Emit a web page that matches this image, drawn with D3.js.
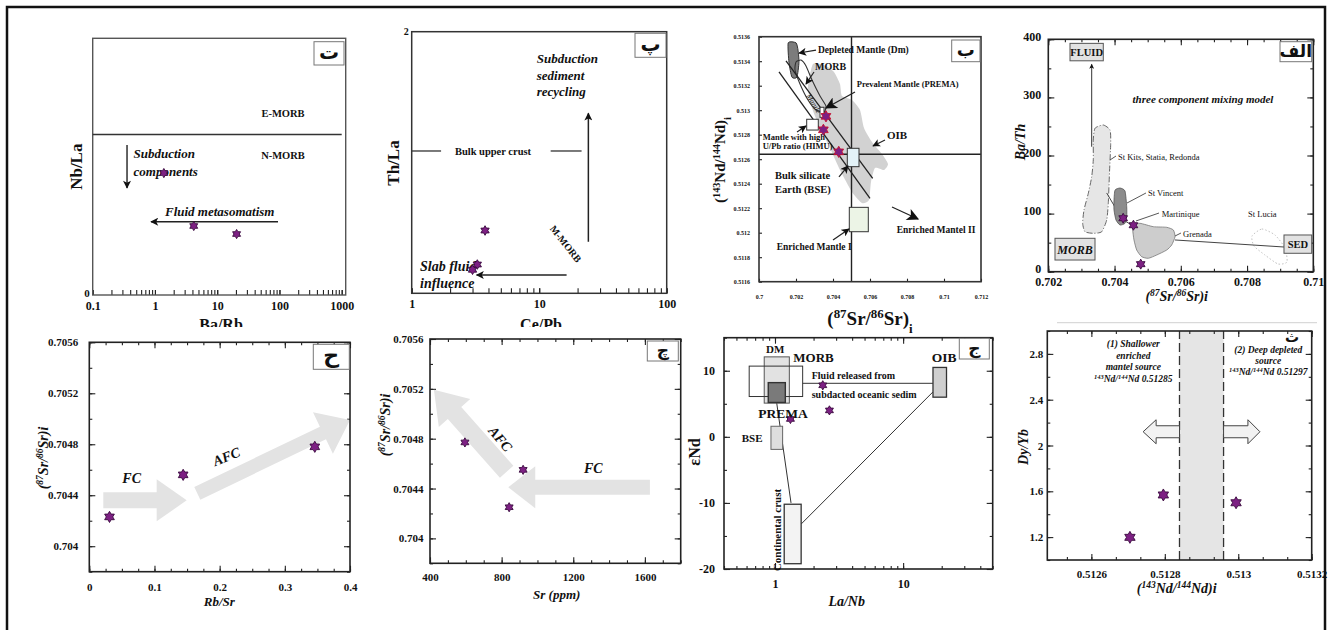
<!DOCTYPE html>
<html><head><meta charset="utf-8">
<script src="https://cdn.jsdelivr.net/npm/d3@7"></script>
<style>body{margin:0;background:#fff}svg{display:block}</style>
</head><body><svg id="c" width="1330" height="630"></svg>
<script>
// ================= DATA =================
// Panel ت : Nb/La vs Ba/Rb
const tBaRb = [1.39, 4.2, 20.5];
const tNbLa = [0.76, 0.43, 0.38];
const tXTicks = [0.1, 1, 10, 100, 1000];
const tXTickLabels = ["0.1", "1", "10", "100", "1000"];
const tYTicks = [0];
const tYTickLabels = ["0"];
const tMorbDivide = 1.0;
const tSubductionArrow = [[0.356, 0.935], [0.356, 0.667]];
const tFluidArrow = [[94.8, 0.457], [0.865, 0.457]];

// Panel پ : Th/La vs Ce/Pb
const pCePb = [3.76, 3.27, 3.0];
const pThLa = [0.48, 0.22, 0.18];
const pXTicks = [1, 10, 100];
const pXTickLabels = ["1", "10", "100"];
const pYTicks = [2];
const pYTickLabels = ["2"];
const pBulkCrust = 1.088;
const pBulkCrustSegments = [[1, 1.70], [12.3, 21.5]];
const pRecyclingArrow = [[24.3, 0.394], [24.3, 1.376]];
const pSlabArrow = [[16.4, 0.14], [3.23, 0.14]];

// Panel ب : (143Nd/144Nd)i vs (87Sr/86Sr)i
const bSr = [0.70362, 0.70348, 0.70431];
const bNd = [0.51295, 0.51284, 0.51266];
const bXTicks = [0.7, 0.702, 0.704, 0.706, 0.708, 0.71, 0.712];
const bXTickLabels = ["0.7", "0.702", "0.704", "0.706", "0.708", "0.71", "0.712"];
const bYTicks = [0.5116, 0.5118, 0.512, 0.5122, 0.5124, 0.5126, 0.5128, 0.513, 0.5132, 0.5134, 0.5136];
const bYTickLabels = ["0.5116", "0.5118", "0.512", "0.5122", "0.5124", "0.5126", "0.5128", "0.513", "0.5132", "0.5134", "0.5136"];
const bBseSr = 0.705;
const bBseNd = 0.51264;
const bDmField = [[0.70158, 0.51355], [0.70200, 0.51355], [0.70211, 0.51349], [0.70216, 0.51339], [0.70205, 0.51327], [0.70178, 0.51327], [0.70162, 0.51339]];
const bMorbField = [[0.702, 0.513393], [0.70227, 0.513409], [0.702541, 0.51336], [0.702865, 0.513246], [0.703297, 0.513116], [0.703622, 0.513034], [0.703514, 0.512985], [0.703081, 0.513002], [0.702649, 0.513083], [0.702216, 0.513214], [0.701946, 0.513328]];
const bOibField = [[0.702919, 0.513377], [0.703622, 0.513361], [0.704054, 0.513312], [0.704378, 0.513214], [0.704486, 0.513116], [0.705027, 0.513083], [0.705459, 0.513002], [0.705676, 0.512855], [0.706108, 0.51274], [0.706649, 0.512642], [0.706973, 0.512561], [0.706757, 0.512512], [0.70627, 0.512528], [0.706054, 0.512414], [0.705946, 0.512267], [0.705568, 0.512243], [0.705027, 0.512333], [0.704378, 0.512512], [0.703838, 0.512691], [0.703297, 0.512855], [0.702865, 0.513018], [0.702649, 0.513181]];
const bArrayLineA = [[0.701081, 0.513312], [0.706, 0.512281]];
const bArrayLineB = [[0.701459, 0.513402], [0.706146, 0.512444]];
const bPremaBox = [0.703297, 0.703514, 0.512942, 0.513024];
const bHimuBox = [0.702578, 0.703205, 0.512838, 0.512926];
const bBseBox = [0.704773, 0.705405, 0.512539, 0.512689];
const bEm1Box = [0.704881, 0.705908, 0.512008, 0.512207];
const bPointers = [
  [[0.703081, 0.513491], [0.702162, 0.513467]],
  [[0.702973, 0.513312], [0.702541, 0.513214]],
  [[0.702054, 0.512822], [0.702541, 0.512871]],
  [[0.706811, 0.512757], [0.706162, 0.512708]],
  [[0.704324, 0.512455], [0.704811, 0.512545]],
  [[0.704, 0.51194], [0.704865, 0.51203]]
];
const bPremaPointer = [[0.705189, 0.513149], [0.703622, 0.513018]];
const bEm2Pointer = [[0.707189, 0.51221], [0.708595, 0.512112]];

// Panel الف : Ba/Th vs (87Sr/86Sr)i
const aSr = [0.70426, 0.70457, 0.70479];
const aBaTh = [92, 80, 13];
const aXTicks = [0.702, 0.704, 0.706, 0.708, 0.71];
const aXTickLabels = ["0.702", "0.704", "0.706", "0.708", "0.71"];
const aYTicks = [0, 100, 200, 300, 400];
const aYTickLabels = ["0", "100", "200", "300", "400"];
const aStKits = [[0.70341, 246.8], [0.70366, 252.5], [0.703863, 243.9], [0.703884, 221.0], [0.703842, 163.5], [0.703811, 117.7], [0.703763, 89.0], [0.703612, 68.8], [0.703358, 66.1], [0.703108, 68.8], [0.703038, 83.3], [0.703078, 106.2], [0.703208, 134.9], [0.70331, 163.5], [0.703358, 192.3], [0.703358, 226.7]];
const aStVincent = [[0.704014, 140.4], [0.704165, 144.0], [0.704315, 138.9], [0.704367, 111.9], [0.704367, 94.7], [0.704315, 83.3], [0.704165, 80.4], [0.704044, 89.0], [0.703984, 106.2], [0.703984, 123.4]];
const aGrenada = [[0.704566, 80.4], [0.704768, 83.3], [0.70517, 77.5], [0.705574, 76.4], [0.705774, 71.8], [0.705825, 60.2], [0.705725, 46.0], [0.705574, 37.3], [0.705272, 28.7], [0.705019, 23.1], [0.70482, 25.8], [0.704669, 37.3], [0.704587, 54.6], [0.704548, 71.8]];
const aStLucia = [[0.708149, 61.4], [0.708451, 73.5], [0.708843, 63.2], [0.709145, 40.8], [0.709205, 16.7], [0.708934, 13.3], [0.708541, 28.7], [0.708209, 44.2]];
const aFluidArrow = [[0.70331, 215.1], [0.70331, 357]];
const aMixLine = [[0.703763, 135.5], [0.704225, 90.7], [0.704557, 78.7]];
const aSedLine = [[0.705825, 54.6], [0.709115, 42.5]];
const aFluidBox = [0.702655, 0.70366, 363, 393];
const aMorbBox = [0.702202, 0.70341, 20.1, 57.5];
const aSedBox = [0.709115, 0.709952, 31.7, 63.2];
const aLeaders = [
  [[0.704044, 199.1], [0.703863, 192.3]],
  [[0.704949, 135.5], [0.704376, 118.2]],
  [[0.705342, 101.0], [0.704648, 87.3]],
  [[0.706006, 66.6], [0.705825, 61.4]]
];

// Panel ح : (87Sr/86Sr)i vs Rb/Sr
const hRbSr = [0.031, 0.144, 0.346];
const hSr = [0.70423, 0.70456, 0.70478];
const hXTicks = [0, 0.1, 0.2, 0.3, 0.4];
const hXTickLabels = ["0", "0.1", "0.2", "0.3", "0.4"];
const srYTicks = [0.704, 0.7044, 0.7048, 0.7052, 0.7056];
const srYTickLabels = ["0.704", "0.7044", "0.7048", "0.7052", "0.7056"];
const hFcArrow = [[0.0215, 0.70436], [0.1494, 0.70436]];
const hAfcArrow = [[0.1657, 0.704415], [0.4, 0.70499]];

// Panel چ : (87Sr/86Sr)i vs Sr (ppm)
const chSrPpm = [595, 920, 842];
const chSr = [0.70477, 0.70455, 0.70425];
const chXTicks = [400, 800, 1200, 1600];
const chXTickLabels = ["400", "800", "1200", "1600"];
const chAfcArrow = [[828, 0.704535], [422, 0.705192]];
const chFcArrow = [[1628, 0.704411], [837, 0.704411]];

// Panel ج : εNd vs La/Nb
const jLaNb = [2.36, 2.66, 1.32];
const jENd = [7.8, 4.0, 2.7];
const jXTicks = [1, 10];
const jXTickLabels = ["1", "10"];
const jYTicks = [-20, -10, 0, 10];
const jYTickLabels = ["-20", "-10", "0", "10"];
const jMorbBox = [0.629, 1.644, 6.1, 10.7];
const jDmBox = [0.824, 1.294, 5.1, 12.1];
const jPremaBox = [0.886, 1.204, 5.2, 8.2];
const jBseBox = [0.93, 1.147, -1.9, 1.6];
const jOibBox = [17.1, 21.8, 6.0, 10.5];
const jCrustBox = [1.18, 1.60, -19.2, -10.2];
const jFluidLine = [[1.644, 8.1], [17.1, 8.1]];
const jCrustLine1 = [[1.03, 5.2], [1.334, -10.0]];
const jCrustLine2 = [[17.1, 6.8], [1.60, -13.2]];

// Panel ث : Dy/Yb vs (143Nd/144Nd)i
const thNd = [0.512705, 0.512796, 0.512994];
const thDyYb = [1.198, 1.568, 1.50];
const thXTicks = [0.5126, 0.5128, 0.513, 0.5132];
const thXTickLabels = ["0.5126", "0.5128", "0.513", "0.5132"];
const thYTicks = [1.2, 1.6, 2, 2.4, 2.8];
const thYTickLabels = ["1.2", "1.6", "2", "2.4", "2.8"];
const thBand = [0.51284, 0.51296];
const thLeftArrow = [[0.51284, 2.12], [0.512741, 2.12]];
const thRightArrow = [[0.51296, 2.12], [0.513059, 2.12]];

// ================= DRAWING =================
const svg = d3.select("#c");
const SERIF = "'Liberation Serif','Times New Roman',serif";
const ARAB = "'DejaVu Sans',sans-serif";
const STAR = "#7d2083", STAR_EDGE = "#3a0a3e";
svg.append("rect").attr("width", 1330).attr("height", 630).attr("fill", "#fff");
const defs = svg.append("defs");
function marker(id, w, h) {
  defs.append("marker").attr("id", id).attr("viewBox", "0 0 10 10").attr("refX", 9).attr("refY", 5)
    .attr("markerWidth", w).attr("markerHeight", h).attr("markerUnits", "userSpaceOnUse").attr("orient", "auto")
    .append("path").attr("d", "M0,0L10,5L0,10L2.5,5Z").attr("fill", "#111");
}
marker("ah", 9, 8); marker("ahBig", 14, 12); marker("ahSmall", 6, 5);

function hexagram(R) {
  const r = R / Math.sqrt(3), p = [];
  for (let i = 0; i < 12; i++) {
    const a = -Math.PI / 2 + i * Math.PI / 6, rr = i % 2 === 0 ? R : r;
    p.push([(rr * Math.cos(a)).toFixed(2), (rr * Math.sin(a)).toFixed(2)]);
  }
  return "M" + p.join("L") + "Z";
}
function stars(g, xs, ys, x, y, R, edge) {
  g.selectAll(null).data(xs.map((d, i) => [d, ys[i]])).enter().append("path")
    .attr("d", hexagram(R)).attr("transform", d => `translate(${x(d[0])},${y(d[1])})`)
    .attr("fill", STAR).attr("stroke", edge || STAR_EDGE).attr("stroke-width", 0.9);
}
function txt(g, x, y, s, o = {}) {
  const fs = o.fs || 11;
  const t = g.append("text").attr("x", x).attr("y", y).attr("font-family", o.ff || SERIF).attr("font-size", fs)
    .attr("font-weight", o.fw || "bold").attr("font-style", o.it ? "italic" : "normal")
    .attr("text-anchor", o.anchor || "start").attr("fill", o.fill || "#111");
  if (o.rot != null) t.attr("transform", `rotate(${o.rot},${x},${y})`);
  if (Array.isArray(s)) {
    s.forEach(p => {
      const ts = t.append("tspan").text(p[0]);
      if (p[1] === "sup") ts.attr("baseline-shift", "super").attr("font-size", fs * 0.68);
      if (p[1] === "sub") ts.attr("baseline-shift", "sub").attr("font-size", fs * 0.68);
    });
  } else t.text(s);
  return t;
}
const rich = arr => arr.map(p => Array.isArray(p) ? p : [p, ""]);
function frame(g, f, stroke, sw) {
  g.append("rect").attr("x", f.x).attr("y", f.y).attr("width", f.w).attr("height", f.h)
    .attr("fill", "none").attr("stroke", stroke || "#222").attr("stroke-width", sw || 1.5);
}
function axis(g, f, scale, orient, vals, labels, o = {}) {
  let ax, tr;
  if (orient === "bottom") { ax = d3.axisBottom(scale); tr = `translate(0,${f.y + f.h})`; }
  if (orient === "top") { ax = d3.axisTop(scale); tr = `translate(0,${f.y})`; }
  if (orient === "left") { ax = d3.axisLeft(scale); tr = `translate(${f.x},0)`; }
  if (orient === "right") { ax = d3.axisRight(scale); tr = `translate(${f.x + f.w},0)`; }
  ax.tickValues(vals).tickSize(-(o.len == null ? 6 : o.len)).tickPadding(o.pad == null ? 6 : o.pad)
    .tickFormat(labels ? (d, i) => labels[i] : () => "");
  const a = g.append("g").attr("transform", tr).call(ax);
  a.select(".domain").remove();
  a.attr("font-family", SERIF).attr("font-size", o.fs || 12).attr("font-weight", "bold");
  a.selectAll("text").attr("fill", "#111");
  if (o.dy != null) a.selectAll("text").attr("dy", o.dy);
  a.selectAll("line").attr("stroke", o.stroke || "#222").attr("stroke-width", o.sw || 1.1);
  return a;
}
function tag(g, x, y, w, h, s, fs) {
  g.append("rect").attr("x", x).attr("y", y).attr("width", w).attr("height", h).attr("fill", "#fff").attr("stroke", "#777").attr("stroke-width", 1);
  g.append("text").attr("x", x + w / 2).attr("y", y + h / 2 + fs * 0.3).attr("text-anchor", "middle")
    .attr("font-family", ARAB).attr("font-weight", "bold").attr("font-size", fs).attr("fill", "#111").text(s);
}
function segLine(g, pts, x, y, o = {}) {
  const l = g.append("path").attr("d", d3.line().x(d => x(d[0])).y(d => y(d[1]))(pts))
    .attr("fill", "none").attr("stroke", o.stroke || "#222").attr("stroke-width", o.sw || 1.2);
  if (o.dash) l.attr("stroke-dasharray", o.dash);
  if (o.head) l.attr("marker-end", `url(#${o.head})`);
  return l;
}
function box(g, b, x, y, o = {}) {
  return g.append("rect").attr("x", x(b[0])).attr("y", y(b[3])).attr("width", x(b[1]) - x(b[0])).attr("height", y(b[2]) - y(b[3]))
    .attr("fill", o.fill || "none").attr("stroke", o.stroke || "#333").attr("stroke-width", o.sw || 1);
}
function field(g, pts, x, y, o = {}) {
  const p = g.append("path").attr("d", d3.line().x(d => x(d[0])).y(d => y(d[1])).curve(d3.curveCardinalClosed.tension(0.4))(pts))
    .attr("fill", o.fill || "none").attr("stroke", o.stroke || "none").attr("stroke-width", o.sw || 1);
  if (o.dash) p.attr("stroke-dasharray", o.dash);
  return p;
}
function blockArrow(g, pts, x, y, w, hw, hl, o = {}) {
  const p0 = [x(pts[0][0]), y(pts[0][1])], p1 = [x(pts[1][0]), y(pts[1][1])];
  const dx = p1[0] - p0[0], dy = p1[1] - p0[1], L = Math.hypot(dx, dy), ux = dx / L, uy = dy / L, nx = -uy, ny = ux, b = L - hl;
  const q = [[0, w], [b, w], [b, hw], [L, 0], [b, -hw], [b, -w], [0, -w]].map(([s, t]) => [p0[0] + ux * s + nx * t, p0[1] + uy * s + ny * t]);
  g.append("path").attr("d", "M" + q.map(d => d.map(v => v.toFixed(2)).join(",")).join("L") + "Z")
    .attr("fill", o.fill || "#e3e3e3").attr("stroke", o.stroke || "none").attr("stroke-width", o.sw || 1);
}

// ---------- Panel ت ----------
{
  const g = svg.append("g");
  const f = { x: 92.7, y: 38.3, w: 253, h: 256.7 };
  const x = d3.scaleLog().domain([0.1, 1000]).range([92.7, 341.7]);
  const y = d3.scaleLinear().domain([0, 1.6]).range([f.y + f.h, f.y]);
  axis(g, f, x, "bottom", x.ticks(), null, { len: 5 });
  axis(g, f, x, "bottom", tXTicks, tXTickLabels, { len: 5, pad: 6.5, fs: 12 });
  axis(g, f, y, "left", tYTicks, tYTickLabels, { len: 0, pad: 3, fs: 11, dy: "0.15em" });
  frame(g, f, "#555", 1.4);
  segLine(g, [[0.1, tMorbDivide], [1000, tMorbDivide]], x, y, { sw: 1.4, stroke: "#333" });
  txt(g, 283, 117, "E-MORB", { fs: 10.5, anchor: "middle" });
  txt(g, 283, 159, "N-MORB", { fs: 10.5, anchor: "middle" });
  txt(g, 133.5, 158, "Subduction", { fs: 13, it: true });
  txt(g, 133.5, 175.5, "components", { fs: 13, it: true });
  txt(g, 165, 216, "Fluid metasomatism", { fs: 13, it: true });
  segLine(g, tSubductionArrow, x, y, { sw: 1.4, head: "ah" });
  segLine(g, tFluidArrow, x, y, { sw: 1.4, head: "ah" });
  stars(g, tBaRb, tNbLa, x, y, 4.6);
  txt(g, 0, 0, "Nb/La", { fs: 17, anchor: "middle" }).attr("transform", "translate(82,166.7) rotate(-90)");
  tag(g, 314, 41.7, 30, 23.3, "ت", 20);
}
// ---------- Panel پ ----------
{
  const g = svg.append("g");
  const f = { x: 411.7, y: 31.7, w: 255, h: 261.6 };
  const x = d3.scaleLog().domain([1, 100]).range([f.x, f.x + f.w]);
  const y = d3.scaleLinear().domain([0, 2]).range([f.y + f.h, f.y]);
  axis(g, f, x, "bottom", x.ticks(), null, { len: 5 });
  axis(g, f, x, "bottom", pXTicks, pXTickLabels, { len: 5, pad: 6, fs: 12 });
  axis(g, f, y, "left", pYTicks, pYTickLabels, { len: 0, pad: 3, fs: 10 });
  frame(g, f, "#333", 1.5);
  pBulkCrustSegments.forEach(s => segLine(g, [[s[0], pBulkCrust], [s[1], pBulkCrust]], x, y, { sw: 1.3, stroke: "#333" }));
  txt(g, 493, 154.5, "Bulk upper crust", { fs: 10.5, anchor: "middle" });
  txt(g, 536.7, 62.5, "Subduction", { fs: 13, it: true });
  txt(g, 536.7, 79.5, "sediment", { fs: 13, it: true });
  txt(g, 536.7, 96, "recycling", { fs: 13, it: true });
  segLine(g, pRecyclingArrow, x, y, { sw: 1.5, head: "ah" });
  segLine(g, pSlabArrow, x, y, { sw: 1.5, head: "ah" });
  txt(g, 563, 246, "M-MORB", { fs: 10, rot: 52, anchor: "middle" });
  txt(g, 420, 271, "Slab fluid", { fs: 14, it: true });
  txt(g, 420, 288, "influence", { fs: 14, it: true });
  stars(g, pCePb, pThLa, x, y, 4.8);
  txt(g, 0, 0, "Th/La", { fs: 17, anchor: "middle" }).attr("transform", "translate(399,163) rotate(-90)");
  tag(g, 635, 33.3, 31, 24, "پ", 20);
}
// ---------- Panel ب ----------
{
  const g = svg.append("g");
  const f = { x: 759, y: 36.7, w: 222, h: 245 };
  const x = d3.scaleLinear().domain([0.7, 0.712]).range([f.x, f.x + f.w]);
  const y = d3.scaleLinear().domain([0.5116, 0.5136]).range([f.y + f.h, f.y]);
  axis(g, f, x, "bottom", bXTicks, bXTickLabels, { len: 3, pad: 13, fs: 6 });
  axis(g, f, y, "left", bYTicks, bYTickLabels, { len: 3, pad: 9, fs: 6 });
  field(g, bOibField, x, y, { fill: "#d2d2d2" });
  field(g, bDmField, x, y, { fill: "#7c7c7c", stroke: "#333", sw: 1 });
  field(g, bMorbField, x, y, { stroke: "#333", sw: 1.1 });
  segLine(g, bArrayLineA, x, y, { sw: 1.3, stroke: "#222" });
  segLine(g, bArrayLineB, x, y, { sw: 1.3, stroke: "#222" });
  segLine(g, [[bBseSr, 0.5116], [bBseSr, 0.5136]], x, y, { sw: 1.4 });
  segLine(g, [[0.7, bBseNd], [0.712, bBseNd]], x, y, { sw: 1.4 });
  box(g, bPremaBox, x, y, { fill: "#fff" });
  box(g, bHimuBox, x, y, { fill: "#fff" });
  box(g, bBseBox, x, y, { fill: "#e3f2f7" });
  box(g, bEm1Box, x, y, { fill: "#ecf4e6" });
  frame(g, f, "#333", 1.6);
  bPointers.forEach(p => segLine(g, p, x, y, { sw: 1.2, head: "ah" }));
  segLine(g, bPremaPointer, x, y, { sw: 1.3, head: "ahBig" });
  segLine(g, bEm2Pointer, x, y, { sw: 1.3, head: "ahBig" });
  stars(g, bSr, bNd, x, y, 5.6, "#c8102e");
  txt(g, 818, 53, "Depleted Mantle (Dm)", { fs: 9.5 });
  txt(g, 815, 69.5, "MORB", { fs: 10 });
  txt(g, 856.7, 87, "Prevalent Mantle (PREMA)", { fs: 8.5 });
  txt(g, 806, 96, "Mantle", { fs: 7.5, it: true, fw: "normal", rot: 58 });
  txt(g, 762.7, 139.5, "Mantle with high", { fs: 8.5 });
  txt(g, 762.7, 148.5, "U/Pb ratio (HIMU)", { fs: 8.5 });
  txt(g, 887, 139, "OIB", { fs: 11 });
  txt(g, 775, 179, "Bulk silicate", { fs: 10.5 });
  txt(g, 775, 193, "Earth (BSE)", { fs: 10.5 });
  txt(g, 776.7, 249.5, "Enriched Mantle I", { fs: 9.5 });
  txt(g, 896.7, 233, "Enriched Mantel II", { fs: 9.5 });
  txt(g, 870, 325, rich(["(", ["87", "sup"], "Sr/", ["86", "sup"], "Sr)", ["i", "sub"]]), { fs: 19, anchor: "middle" });
  txt(g, 0, 0, rich(["(", ["143", "sup"], "Nd/", ["144", "sup"], "Nd)", ["i", "sub"]]), { fs: 15, anchor: "middle" })
    .attr("transform", "translate(725,160) rotate(-90)");
  tag(g, 951.7, 40, 28.3, 21.7, "ب", 18);
}
// ---------- Panel الف ----------
{
  const g = svg.append("g");
  const f = { x: 1048.3, y: 39.3, w: 265, h: 232.4 };
  const x = d3.scaleLinear().domain([0.702, 0.71]).range([f.x, f.x + f.w]);
  const y = d3.scaleLinear().domain([0, 400]).range([f.y + f.h, f.y]);
  const xm = d3.range(0.702, 0.71001, 0.0005), ym = d3.range(0, 400.1, 50);
  ["bottom", "top"].forEach(o => axis(g, f, x, o, xm, null, { len: 3 }));
  ["left", "right"].forEach(o => axis(g, f, y, o, ym, null, { len: 3 }));
  axis(g, f, x, "top", aXTicks, null, { len: 6 });
  axis(g, f, y, "right", aYTicks, null, { len: 6 });
  axis(g, f, x, "bottom", aXTicks, aXTickLabels, { len: 6, pad: 6, fs: 12 });
  axis(g, f, y, "left", aYTicks, aYTickLabels, { len: 6, pad: 7, fs: 12, dy: "0.08em" });
  field(g, aStKits, x, y, { fill: "#e6e6e6", stroke: "#666", sw: 1, dash: "6,2,1,2" });
  field(g, aStLucia, x, y, { stroke: "#c4c4c4", sw: 1, dash: "1.5,2" });
  segLine(g, aMixLine, x, y, { sw: 1, stroke: "#444" });
  field(g, aGrenada, x, y, { fill: "#cdcdcd", stroke: "#777", sw: 0.8 });
  field(g, aStVincent, x, y, { fill: "#8c8c8c", stroke: "#555", sw: 0.8 });
  segLine(g, aSedLine, x, y, { sw: 1, stroke: "#444" });
  segLine(g, aFluidArrow, x, y, { sw: 1, stroke: "#333", head: "ahSmall" });
  aLeaders.forEach(p => segLine(g, p, x, y, { sw: 0.9, stroke: "#444" }));
  box(g, aFluidBox, x, y, { fill: "#e2e2e2", stroke: "#555" });
  box(g, aMorbBox, x, y, { fill: "#e2e2e2", stroke: "#555" });
  box(g, aSedBox, x, y, { fill: "#e2e2e2", stroke: "#555" });
  txt(g, (x(aFluidBox[0]) + x(aFluidBox[1])) / 2, 56, "FLUID", { fs: 10.5, anchor: "middle" });
  txt(g, (x(aMorbBox[0]) + x(aMorbBox[1])) / 2, 253.5, "MORB", { fs: 12, it: true, anchor: "middle" });
  txt(g, (x(aSedBox[0]) + x(aSedBox[1])) / 2, 248, "SED", { fs: 10.5, anchor: "middle" });
  frame(g, f, "#222", 1.6);
  stars(g, aSr, aBaTh, x, y, 5);
  txt(g, 1203, 103, "three component mixing model", { fs: 11, it: true, anchor: "middle" });
  txt(g, 1118, 159.5, "St Kits, Statia, Redonda", { fs: 8.5, fw: "normal" });
  txt(g, 1148, 196, "St Vincent", { fs: 8.5, fw: "normal" });
  txt(g, 1161.7, 216.5, "Martinique", { fs: 8.5, fw: "normal" });
  txt(g, 1183, 236.5, "Grenada", { fs: 8.5, fw: "normal" });
  txt(g, 1248, 216.5, "St Lucia", { fs: 8.5, fw: "normal" });
  txt(g, 1176.7, 301, rich(["(", ["87", "sup"], "Sr/", ["86", "sup"], "Sr)i"]), { fs: 14, it: true, anchor: "middle" });
  txt(g, 0, 0, "Ba/Th", { fs: 14, it: true, anchor: "middle" }).attr("transform", "translate(1025,142) rotate(-90)");
  tag(g, 1280, 41.7, 31.7, 20, "الف", 17);
  g.append("line").attr("x1", 1057).attr("x2", 1317).attr("y1", 322.7).attr("y2", 322.7).attr("stroke", "#d0d0d0").attr("stroke-width", 1);
}
// cut-off x titles of the upper left panels
txt(svg, 221, 329.5, "Ba/Rb", { fs: 16, anchor: "middle" });
txt(svg, 541, 329.5, "Ce/Pb", { fs: 16, anchor: "middle" });
svg.append("rect").attr("x", 60).attr("y", 327).attr("width", 630).attr("height", 12).attr("fill", "#fff");

// ---------- Panel ح ----------
{
  const g = svg.append("g");
  const f = { x: 89.3, y: 342.3, w: 260.7, h: 229.4 };
  const x = d3.scaleLinear().domain([0, 0.4]).range([f.x, f.x + f.w]);
  const y = d3.scaleLinear().domain([0.7038, 0.7056]).range([f.y + f.h, f.y]);
  const xm = d3.range(0, 0.4001, 0.025), ym = d3.range(0.7038, 0.70561, 0.0002);
  ["bottom", "top"].forEach(o => axis(g, f, x, o, xm, null, { len: 3 }));
  ["left", "right"].forEach(o => axis(g, f, y, o, ym, null, { len: 3 }));
  axis(g, f, x, "top", hXTicks, null, { len: 6 });
  axis(g, f, y, "right", srYTicks, null, { len: 6 });
  axis(g, f, x, "bottom", hXTicks, hXTickLabels, { len: 6, pad: 12, fs: 11 });
  axis(g, f, y, "left", srYTicks, srYTickLabels, { len: 6, pad: 11, fs: 11 });
  blockArrow(g, hFcArrow, x, y, 8, 21, 30);
  blockArrow(g, hAfcArrow, x, y, 7, 23, 30);
  frame(g, f, "#222", 1.6);
  txt(g, 131.7, 483, "FC", { fs: 14, it: true, anchor: "middle" });
  txt(g, 228.3, 461, "AFC", { fs: 14, it: true, anchor: "middle", rot: -22 });
  stars(g, hRbSr, hSr, x, y, 5.6);
  txt(g, 219.3, 606, "Rb/Sr", { fs: 13, it: true, anchor: "middle" });
  txt(g, 0, 0, rich(["(", ["87", "sup"], "Sr/", ["86", "sup"], "Sr)i"]), { fs: 14, it: true, anchor: "middle" })
    .attr("transform", "translate(48,458) rotate(-90)");
  tag(g, 313.3, 344.3, 36, 25, "ح", 22);
}
// ---------- Panel چ ----------
{
  const g = svg.append("g");
  const f = { x: 430, y: 339, w: 250.7, h: 224.3 };
  const x = d3.scaleLinear().domain([400, 1800]).range([f.x, f.x + f.w]);
  const y = d3.scaleLinear().domain([0.7038, 0.7056]).range([f.y + f.h, f.y]);
  const xm = d3.range(400, 1800.1, 100), ym = d3.range(0.7038, 0.70561, 0.0002);
  ["bottom", "top"].forEach(o => axis(g, f, x, o, xm, null, { len: 3 }));
  ["left", "right"].forEach(o => axis(g, f, y, o, ym, null, { len: 3 }));
  axis(g, f, x, "top", chXTicks, null, { len: 6 });
  axis(g, f, y, "right", srYTicks, null, { len: 6 });
  axis(g, f, x, "bottom", chXTicks, chXTickLabels, { len: 6, pad: 9.5, fs: 11 });
  axis(g, f, y, "left", srYTicks, srYTickLabels, { len: 6, pad: 6.5, fs: 11 });
  blockArrow(g, chAfcArrow, x, y, 9, 21, 31);
  blockArrow(g, chFcArrow, x, y, 7.5, 21, 27);
  frame(g, f, "#222", 1.6);
  txt(g, 496.7, 442, "AFC", { fs: 14, it: true, anchor: "middle", rot: 50 });
  txt(g, 593.3, 473, "FC", { fs: 14, it: true, anchor: "middle" });
  stars(g, chSrPpm, chSr, x, y, 4.6);
  txt(g, 556.7, 599, "Sr (ppm)", { fs: 13, it: true, anchor: "middle" });
  txt(g, 0, 0, rich(["(", ["87", "sup"], "Sr/", ["86", "sup"], "Sr)i"]), { fs: 14, it: true, anchor: "middle" })
    .attr("transform", "translate(390,425) rotate(-90)");
  tag(g, 647.3, 341, 31, 20, "چ", 17);
}
// ---------- Panel ج ----------
{
  const g = svg.append("g");
  const f = { x: 724, y: 337.7, w: 268.7, h: 231.3 };
  const x = d3.scaleLog().domain([0.4, 50]).range([f.x, f.x + f.w]);
  const y = d3.scaleLinear().domain([-20, 15]).range([f.y + f.h, f.y]);
  const xm = x.ticks(), ym = d3.range(-20, 15.1, 5);
  ["bottom", "top"].forEach(o => axis(g, f, x, o, xm, null, { len: 3 }));
  ["left", "right"].forEach(o => axis(g, f, y, o, ym, null, { len: 3 }));
  axis(g, f, x, "top", jXTicks, null, { len: 6 });
  axis(g, f, y, "right", jYTicks, null, { len: 6 });
  axis(g, f, x, "bottom", jXTicks, jXTickLabels, { len: 6, pad: 10, fs: 12 });
  axis(g, f, y, "left", jYTicks, jYTickLabels, { len: 6, pad: 9, fs: 12 });
  segLine(g, jFluidLine, x, y, { sw: 1, stroke: "#333" });
  segLine(g, jCrustLine1, x, y, { sw: 1, stroke: "#333" });
  segLine(g, jCrustLine2, x, y, { sw: 1, stroke: "#333" });
  box(g, jDmBox, x, y, { fill: "#e2e2e2", stroke: "#555" });
  box(g, jMorbBox, x, y, { stroke: "#333" });
  box(g, jPremaBox, x, y, { fill: "#7a7a7a", stroke: "#333", sw: 1.4 });
  box(g, jBseBox, x, y, { fill: "#dedede", stroke: "#666" });
  box(g, jOibBox, x, y, { fill: "#cfcfcf", stroke: "#333", sw: 1.3 });
  box(g, jCrustBox, x, y, { fill: "#f3f3f3", stroke: "#333", sw: 1.3 });
  frame(g, f, "#222", 1.6);
  stars(g, jLaNb, jENd, x, y, 4.6);
  txt(g, 766, 353, "DM", { fs: 11 });
  txt(g, 793.3, 361.5, "MORB", { fs: 13 });
  txt(g, 811.7, 378.5, "Fluid released from", { fs: 10 });
  txt(g, 811.7, 397.5, "subdacted oceanic sedim", { fs: 10 });
  txt(g, 758.3, 417.5, "PREMA", { fs: 13.5 });
  txt(g, 741.7, 441.5, "BSE", { fs: 11 });
  txt(g, 931.7, 362, "OIB", { fs: 13.5 });
  txt(g, 0, 0, "Continental crust", { fs: 11, anchor: "middle" }).attr("transform", "translate(781,530) rotate(-90)");
  txt(g, 846.7, 606, "La/Nb", { fs: 14, it: true, anchor: "middle" });
  txt(g, 0, 0, "\u03B5Nd", { fs: 16, anchor: "middle" }).attr("transform", "translate(700,452) rotate(-90)");
  tag(g, 959.3, 338.3, 30, 20.7, "ج", 17);
}
// ---------- Panel ث ----------
{
  const g = svg.append("g");
  const f = { x: 1047.3, y: 331, w: 264.4, h: 229 };
  const x = d3.scaleLinear().domain([0.51248, 0.5132]).range([f.x, f.x + f.w]);
  const y = d3.scaleLinear().domain([1, 3]).range([f.y + f.h, f.y]);
  const st = 0.0002 / 3, xm = d3.range(0.5126 - st, 0.513201, st), ym = d3.range(1, 3.001, 0.2);
  g.append("rect").attr("x", x(thBand[0])).attr("y", f.y).attr("width", x(thBand[1]) - x(thBand[0])).attr("height", f.h).attr("fill", "#e5e5e5");
  thBand.forEach(v => segLine(g, [[v, 1], [v, 3]], x, y, { sw: 1.3, stroke: "#333", dash: "9,4" }));
  ["bottom", "top"].forEach(o => axis(g, f, x, o, xm, null, { len: 3 }));
  ["left", "right"].forEach(o => axis(g, f, y, o, ym, null, { len: 3 }));
  axis(g, f, x, "top", thXTicks, null, { len: 6 });
  axis(g, f, y, "right", thYTicks, null, { len: 6 });
  axis(g, f, x, "bottom", thXTicks, thXTickLabels, { len: 6, pad: 10, fs: 11 });
  axis(g, f, y, "left", thYTicks, thYTickLabels, { len: 6, pad: 4, fs: 11 });
  blockArrow(g, thLeftArrow, x, y, 6, 12, 13, { fill: "#f2f2f2", stroke: "#444", sw: 1 });
  blockArrow(g, thRightArrow, x, y, 6, 12, 12, { fill: "#f2f2f2", stroke: "#444", sw: 1 });
  frame(g, f, "#222", 1.6);
  stars(g, thNd, thDyYb, x, y, 6);
  const o1 = { fs: 9.5, it: true, anchor: "middle" };
  txt(g, 1133.3, 347, "(1) Shallower", o1);
  txt(g, 1133.3, 358.5, "enriched", o1);
  txt(g, 1133.3, 370, "mantel source", o1);
  txt(g, 1133.3, 381.5, [["143", "sup"], ["Nd/", ""], ["144", "sup"], ["Nd  0.51285", ""]], o1);
  txt(g, 1268.3, 353, "(2) Deep depleted", o1);
  txt(g, 1268.3, 364, "source", o1);
  txt(g, 1268.3, 374.5, [["143", "sup"], ["Nd/", ""], ["144", "sup"], ["Nd  0.51297", ""]], o1);
  g.append("text").attr("x", 1292).attr("y", 342).attr("text-anchor", "middle").attr("font-family", ARAB).attr("font-weight", "bold").attr("font-size", 14).attr("fill", "#111").text("ث");
  txt(g, 1176.7, 593, rich(["(", ["143", "sup"], "Nd/", ["144", "sup"], "Nd)i"]), { fs: 14, it: true, anchor: "middle" });
  txt(g, 0, 0, "Dy/Yb", { fs: 14, it: true, anchor: "middle" }).attr("transform", "translate(1028,447) rotate(-90)");
}
// outer border
svg.append("rect").attr("x", 7).attr("y", 7).attr("width", 1318).attr("height", 640).attr("fill", "none").attr("stroke", "#111").attr("stroke-width", 2.5);
</script></body></html>
